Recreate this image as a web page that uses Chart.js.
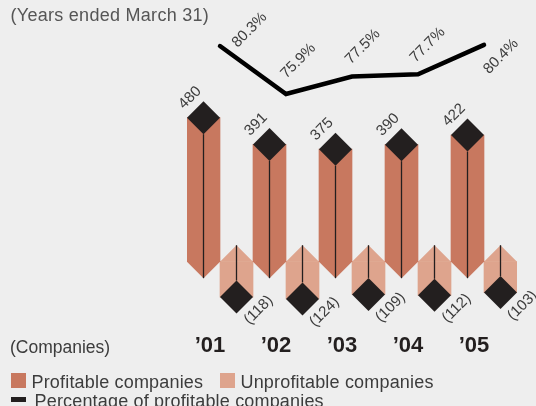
<!DOCTYPE html>
<html>
<head>
<meta charset="utf-8">
<script src="https://cdn.jsdelivr.net/npm/chart.js@4"></script>
<style>
  body { margin: 0; background: #eeeeee; }
  #wrap { position: relative; width: 536px; height: 406px; overflow: hidden; background: #eeeeee;
          font-family: "Liberation Sans", Arial, sans-serif; color: #3c3c3c; }
  #wrap canvas { position: absolute; left: 0; top: 0; }
  .txt { position: absolute; white-space: nowrap; line-height: 1; }
  .leg { letter-spacing: 0.18px; }
  .sw { position: absolute; }
</style>
</head>
<body>
<div id="wrap">
  <canvas id="chart" width="536" height="406"></canvas>
  <div class="txt" style="left:10.5px; top:5.5px; font-size:18px; letter-spacing:0.28px; color:#555;">(Years ended March 31)</div>
  <div class="txt" style="left:10px; top:338.5px; font-size:17.5px;">(Companies)</div>
  <div class="sw" style="left:11px; top:373px; width:15px; height:15px; background:#c8785f;"></div>
  <div class="txt leg" style="left:31.5px; top:372.5px; font-size:18px;">Profitable companies</div>
  <div class="sw" style="left:220px; top:373px; width:15px; height:15px; background:#dea48d;"></div>
  <div class="txt leg" style="left:240.5px; top:372.5px; font-size:18px;">Unprofitable companies</div>
  <div class="sw" style="left:11px; top:397px; width:15px; height:5px; background:#231f1f;"></div>
  <div class="txt leg" style="left:34.5px; top:391.7px; font-size:18px;">Percentage of profitable companies</div>
</div>
<script>
const years = ['’01', '’02', '’03', '’04', '’05'];
const profitable = [480, 391, 375, 390, 422];
const unprofitable = [118, 124, 109, 112, 103];
const profitableShare = [80.3, 75.9, 77.5, 77.7, 80.4];

const PROFIT = '#c8785f';
const LOSS = '#dea48d';
const DARK = '#231f1f';
const LABEL = '#3c3c3c';

// where each percentage label sits relative to its point
const shareLabelOffsets = [[29.5, -16], [12.3, -33], [10.8, -29.8], [9.7, -29.3], [17, 11.5]];

// prism look: pointed end at the base, diamond cap at the value end
const prismPlugin = {
  id: 'prism',
  afterDatasetDraw(chart, args) {
    const meta = args.meta;
    if (meta.type !== 'bar') return;
    const ctx = chart.ctx;
    const color = chart.data.datasets[args.index].backgroundColor;
    ctx.save();
    meta.data.forEach(el => {
      const { x, y, base, width } = el.getProps(['x', 'y', 'base', 'width'], true);
      const h = width / 2;
      const dir = base > y ? 1 : -1;
      // tip beyond the base line
      ctx.fillStyle = color;
      ctx.beginPath();
      ctx.moveTo(x - h, base);
      ctx.lineTo(x + h, base);
      ctx.lineTo(x, base + dir * h);
      ctx.closePath();
      ctx.fill();
      // centre edge
      ctx.strokeStyle = DARK;
      ctx.lineWidth = 1.3;
      ctx.beginPath();
      ctx.moveTo(x, base + dir * h);
      ctx.lineTo(x, y + dir * h);
      ctx.stroke();
      // diamond cap
      ctx.fillStyle = DARK;
      ctx.beginPath();
      ctx.moveTo(x, y - h);
      ctx.lineTo(x + h, y);
      ctx.lineTo(x, y + h);
      ctx.lineTo(x - h, y);
      ctx.closePath();
      ctx.fill();
    });
    ctx.restore();
  }
};

function rotatedText(ctx, text, cx, cy) {
  ctx.save();
  ctx.translate(cx, cy);
  ctx.rotate(-Math.PI / 4);
  ctx.fillText(text, 0, 0);
  ctx.restore();
}

const labelPlugin = {
  id: 'labels',
  afterDraw(chart) {
    const ctx = chart.ctx;
    ctx.save();
    ctx.font = '15px "Liberation Sans", Arial, sans-serif';
    ctx.fillStyle = LABEL;
    ctx.textAlign = 'center';
    ctx.textBaseline = 'middle';

    chart.getDatasetMeta(0).data.forEach((el, i) => {
      rotatedText(ctx, String(profitable[i]), el.x - 13.5, el.y - 20);
    });
    chart.getDatasetMeta(1).data.forEach((el, i) => {
      rotatedText(ctx, '(' + unprofitable[i] + ')', el.x + 22, el.y + 13);
    });
    chart.getDatasetMeta(2).data.forEach((pt, i) => {
      const [dx, dy] = shareLabelOffsets[i];
      rotatedText(ctx, profitableShare[i].toFixed(1) + '%', pt.x + dx, pt.y + dy);
    });

    // year labels under each group
    const xs = chart.scales.x;
    ctx.font = 'bold 22px "Liberation Sans", Arial, sans-serif';
    ctx.fillStyle = DARK;
    ctx.textBaseline = 'alphabetic';
    years.forEach((yr, i) => {
      ctx.fillText(yr, xs.getPixelForValue(i) - 10, 351.7);
    });
    ctx.restore();
  }
};

new Chart(document.getElementById('chart'), {
  type: 'bar',
  data: {
    labels: years,
    datasets: [
      {
        label: 'Profitable companies',
        data: profitable,
        backgroundColor: PROFIT,
        borderWidth: 0,
        yAxisID: 'y',
        order: 1
      },
      {
        label: 'Unprofitable companies',
        data: unprofitable.map(v => -v),
        backgroundColor: LOSS,
        borderWidth: 0,
        yAxisID: 'y',
        order: 1
      },
      {
        type: 'line',
        label: 'Percentage of profitable companies',
        data: profitableShare,
        borderColor: '#000000',
        borderWidth: 4.5,
        borderCapStyle: 'round',
        borderJoinStyle: 'miter',
        pointRadius: 0,
        tension: 0,
        fill: false,
        yAxisID: 'pct',
        order: 0
      }
    ]
  },
  options: {
    responsive: false,
    animation: false,
    devicePixelRatio: 1,
    layout: { padding: { left: 187, right: 19, top: 0, bottom: 0 } },
    datasets: { bar: { categoryPercentage: 1, barPercentage: 1 } },
    plugins: {
      legend: { display: false },
      tooltip: { enabled: false }
    },
    scales: {
      x: { display: false, offset: true },
      y: { display: false, min: -481, max: 872.3 },
      pct: { display: false, position: 'right', min: 47.28, max: 84.52 }
    }
  },
  plugins: [prismPlugin, labelPlugin]
});
</script>
</body>
</html>
